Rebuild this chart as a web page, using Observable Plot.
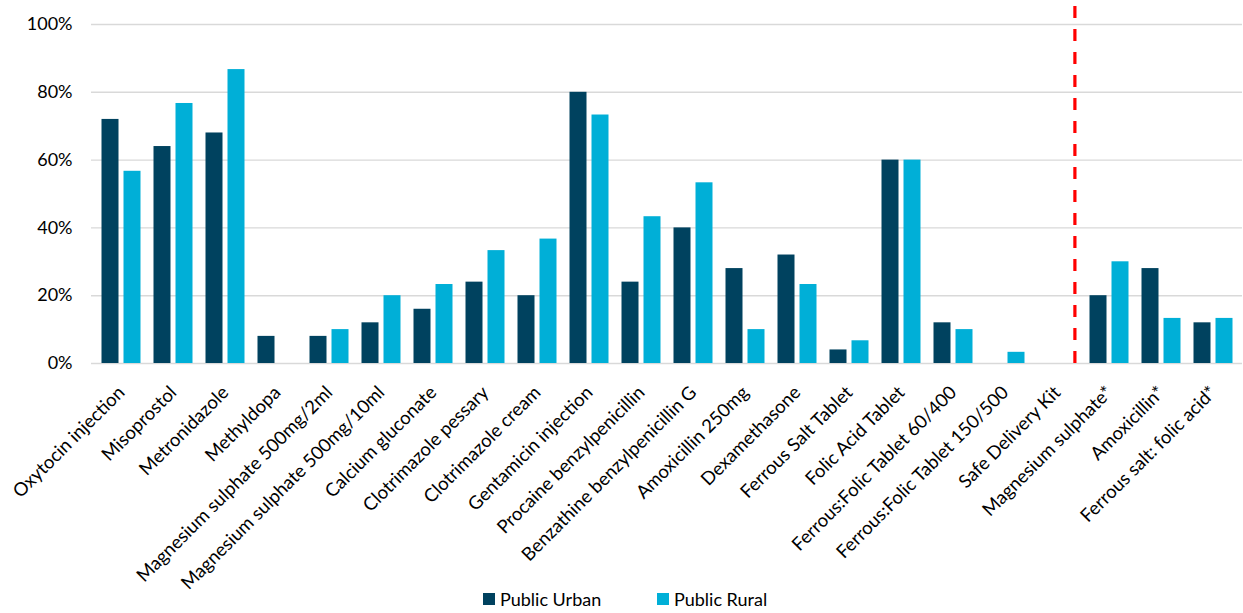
<!DOCTYPE html>
<html><head><meta charset="utf-8">
<script src="https://cdn.jsdelivr.net/npm/d3@7"></script>
<script src="https://cdn.jsdelivr.net/npm/@observablehq/plot@0.6"></script>
<style>
body{margin:0;background:#fff;font-family:Lato,sans-serif}
#legend{position:relative;width:1243px;height:17px;font-size:18px;color:#000}
.item{position:absolute;top:-8px;display:flex;align-items:center;line-height:22px}
.sw{width:12px;height:12px;margin-right:5px}
</style></head><body><div id="chart"></div><div id="legend"></div>
<script>
const categories = ["Oxytocin injection","Misoprostol","Metronidazole","Methyldopa","Magnesium sulphate 500mg/2ml","Magnesium sulphate 500mg/10ml","Calcium gluconate","Clotrimazole pessary","Clotrimazole cream","Gentamicin injection","Procaine benzylpenicillin","Benzathine benzylpenicillin G","Amoxicillin 250mg","Dexamethasone","Ferrous Salt Tablet","Folic Acid Tablet","Ferrous:Folic Tablet 60/400","Ferrous:Folic Tablet 150/500","Safe Delivery Kit","Magnesium sulphate*","Amoxicillin*","Ferrous salt: folic acid*"];
const urban = [72,64,68,8,8,12,16,24,20,80,24,40,28,32,4,60,12,0,0,20,28,12];
const rural = [56.7,76.7,86.7,0,10,20,23.3,33.3,36.7,73.3,43.3,53.3,10,23.3,6.7,60,10,3.3,0,30,13.3,13.3];
const series = ["Public Urban","Public Rural"];
const colors = ["#00425f","#00afd7"];
const yTicks = [0,0.2,0.4,0.6,0.8,1];
const dividerAfter = ["Safe Delivery Kit"];

const urbanData = categories.map((c,i)=>({category:c, series:series[0], value:urban[i]/100}));
const ruralData = categories.map((c,i)=>({category:c, series:series[1], value:rural[i]/100}));

const chart = Plot.plot({
  width:1243, height:596,
  marginLeft:91, marginRight:1, marginTop:24, marginBottom:233,
  style:{fontFamily:"Lato, sans-serif", fontSize:"15px", color:"#000", background:"#fff"},
  x:{domain:categories, padding:0, label:null},
  y:{domain:[0,1], label:null},
  color:{domain:series, range:colors},
  marks:[
    Plot.gridY(yTicks, {stroke:"#d9d9d9", strokeOpacity:1, strokeWidth:1.4}),
    Plot.barY(urbanData, {x:"category", y:"value", fill:"series", insetLeft:6.5, insetRight:28.5}),
    Plot.barY(ruralData, {x:"category", y:"value", fill:"series", insetLeft:28.5, insetRight:6.5}),
    Plot.ruleX(dividerAfter, {x:d=>d, y1:0, y2:1.06, dx:17.4, stroke:"#ff0000", strokeWidth:3.2, strokeDasharray:"12,11"}),
    Plot.axisY({ticks:yTicks, tickFormat:d3.format(".0%"), tickSize:0, tickPadding:19, fontSize:18, label:null}),
    Plot.axisX({tickRotate:-45, tickSize:0, tickPadding:0, dy:26, fontSize:18.5, label:null})
  ]
});
document.getElementById("chart").appendChild(chart);

const legend = document.getElementById("legend");
const lefts = [483, 657];
series.forEach((s,i)=>{
  const it = document.createElement("div");
  it.className="item"; it.style.left = lefts[i]+"px";
  it.innerHTML = `<span class="sw" style="background:${colors[i]}"></span><span>${s}</span>`;
  legend.appendChild(it);
});
</script></body></html>
